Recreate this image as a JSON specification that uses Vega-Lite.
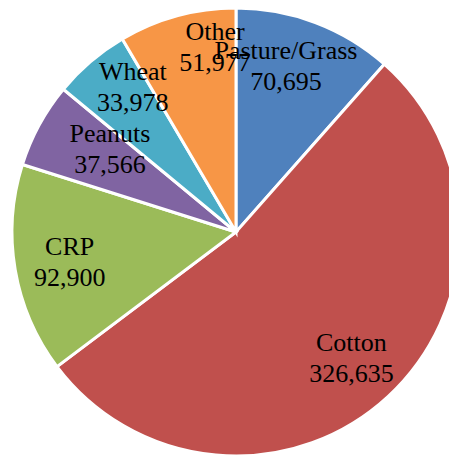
{
  "$schema": "https://vega.github.io/schema/vega-lite/v6.json",
  "width": 472,
  "height": 464,
  "autosize": "none",
  "padding": 0,
  "background": "white",
  "view": {"stroke": null},
  "data": {"values": [
    {"crop": "Pasture/Grass", "acres": 70695, "label": "Pasture/Grass\n70,695", "idx": 1},
    {"crop": "Cotton", "acres": 326635, "label": "Cotton\n326,635", "idx": 2},
    {"crop": "CRP", "acres": 92900, "label": "CRP\n92,900", "idx": 3},
    {"crop": "Peanuts", "acres": 37566, "label": "Peanuts\n37,566", "idx": 4},
    {"crop": "Wheat", "acres": 33978, "label": "Wheat\n33,978", "idx": 5},
    {"crop": "Other", "acres": 51977, "label": "Other\n51,977", "idx": 6}
  ]},
  "transform": [
    {"stack": "acres", "groupby": [], "offset": "normalize", "sort": [{"field": "idx", "order": "ascending"}], "as": ["a0", "a1"]}
  ],
  "encoding": {
    "theta": {"field": "a0", "type": "quantitative", "scale": {"domain": [0, 1], "nice": false}},
    "theta2": {"field": "a1"}
  },
  "layer": [
    {
      "mark": {"type": "arc", "outerRadius": 224, "stroke": "white", "strokeWidth": 3},
      "encoding": {
        "color": {
          "field": "crop", "type": "nominal", "legend": null,
          "scale": {
            "domain": ["Pasture/Grass", "Cotton", "CRP", "Peanuts", "Wheat", "Other"],
            "range": ["#4F81BD", "#C0504D", "#9BBB59", "#8064A2", "#4BACC6", "#F79646"]
          }
        }
      }
    },
    {
      "transform": [{"filter": {"field": "crop", "equal": "Pasture/Grass"}}],
      "mark": {"type": "text", "radius": 173, "thetaOffset": 0.293, "dy": -15, "font": "Times New Roman, Liberation Serif, serif", "fontSize": 26, "lineBreak": "\n", "lineHeight": 31, "fill": "black", "align": "center", "baseline": "middle"},
      "encoding": {"text": {"field": "label", "type": "nominal"}}
    },
    {
      "transform": [{"filter": {"field": "crop", "equal": "Cotton"}}],
      "mark": {"type": "text", "radius": 171, "thetaOffset": 1.677, "dy": -15, "font": "Times New Roman, Liberation Serif, serif", "fontSize": 26, "lineBreak": "\n", "lineHeight": 31, "fill": "black", "align": "center", "baseline": "middle"},
      "encoding": {"text": {"field": "label", "type": "nominal"}}
    },
    {
      "transform": [{"filter": {"field": "crop", "equal": "CRP"}}],
      "mark": {"type": "text", "radius": 169, "thetaOffset": 0.467, "dy": -15, "font": "Times New Roman, Liberation Serif, serif", "fontSize": 26, "lineBreak": "\n", "lineHeight": 31, "fill": "black", "align": "center", "baseline": "middle"},
      "encoding": {"text": {"field": "label", "type": "nominal"}}
    },
    {
      "transform": [{"filter": {"field": "crop", "equal": "Peanuts"}}],
      "mark": {"type": "text", "radius": 151, "thetaOffset": 0.277, "dy": -15, "font": "Times New Roman, Liberation Serif, serif", "fontSize": 26, "lineBreak": "\n", "lineHeight": 31, "fill": "black", "align": "center", "baseline": "middle"},
      "encoding": {"text": {"field": "label", "type": "nominal"}}
    },
    {
      "transform": [{"filter": {"field": "crop", "equal": "Wheat"}}],
      "mark": {"type": "text", "radius": 178, "thetaOffset": 0.262, "dy": -15, "font": "Times New Roman, Liberation Serif, serif", "fontSize": 26, "lineBreak": "\n", "lineHeight": 31, "fill": "black", "align": "center", "baseline": "middle"},
      "encoding": {"text": {"field": "label", "type": "nominal"}}
    },
    {
      "transform": [{"filter": {"field": "crop", "equal": "Other"}}],
      "mark": {"type": "text", "radius": 186, "thetaOffset": 0.419, "dy": -15, "font": "Times New Roman, Liberation Serif, serif", "fontSize": 26, "lineBreak": "\n", "lineHeight": 31, "fill": "black", "align": "center", "baseline": "middle"},
      "encoding": {"text": {"field": "label", "type": "nominal"}}
    }
  ]
}
